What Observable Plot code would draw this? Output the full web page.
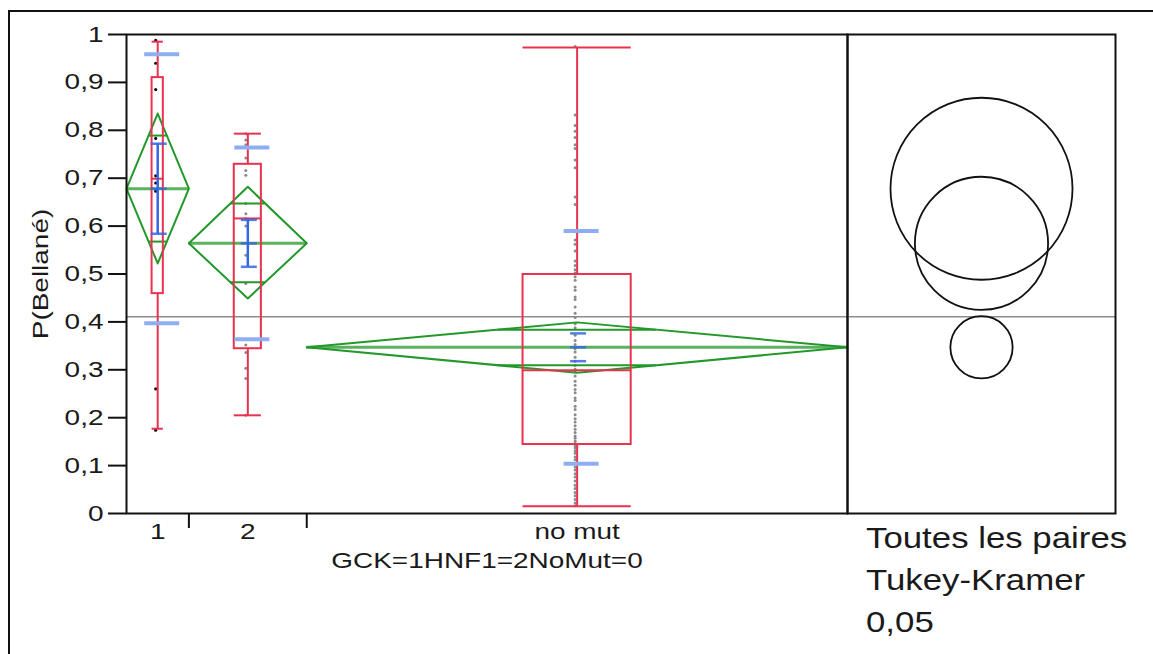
<!DOCTYPE html>
<html>
<head>
<meta charset="utf-8">
<script src="https://cdn.jsdelivr.net/npm/d3@7"></script>
<script src="https://cdn.jsdelivr.net/npm/@observablehq/plot@0.6"></script>
<style>
  html, body { margin: 0; padding: 0; background: #fff; }
  #wrap { position: relative; width: 1153px; height: 654px; overflow: hidden; font-family: "Liberation Sans", Arial, sans-serif; }
  #outer { position: absolute; left: 8px; top: 10px; width: 1300px; height: 800px; border-top: 2px solid #111; border-left: 2px solid #111; }
  .layer { position: absolute; left: 0; top: 0; }
  .note { position: absolute; left: 866px; font-size: 30px; line-height: 30px; color: #1a1a1a; white-space: nowrap; transform: scaleX(1.16); transform-origin: 0 0; }
</style>
</head>
<body>
<div id="wrap"><div id="outer"></div></div>
<script>
// ---------------- data ----------------
const groups = ["1", "2", "no mut"];
const counts = [9, 17, 78];
const pts1 = [0.988, 0.940, 0.885, 0.783, 0.705, 0.690, 0.673, 0.260, 0.174];
const pts2 = [0.793, 0.780, 0.770, 0.742, 0.716, 0.706, 0.647, 0.626, 0.616, 0.600, 0.539, 0.480, 0.352, 0.336, 0.303, 0.282, 0.205];
const pts3 = [0.975, 0.832, 0.810, 0.798, 0.785, 0.770, 0.762, 0.738, 0.722, 0.661, 0.645, 0.588, 0.571, 0.562, 0.548, 0.527, 0.518, 0.509, 0.502,
              0.494, 0.487, 0.473, 0.466, 0.452, 0.447, 0.431, 0.418, 0.409, 0.396, 0.388, 0.372, 0.361, 0.353, 0.344, 0.337, 0.326, 0.318, 0.309, 0.301,
              0.296, 0.287, 0.276, 0.268, 0.259, 0.252, 0.241, 0.236, 0.224, 0.217, 0.206, 0.198, 0.191, 0.183, 0.176, 0.169, 0.162, 0.157, 0.151, 0.146,
              0.141, 0.137, 0.131, 0.126, 0.118, 0.112, 0.104, 0.097, 0.091, 0.083, 0.076, 0.068, 0.059, 0.052, 0.044, 0.037, 0.029, 0.022, 0.016];
const means = [0.678, 0.564, 0.347];
const ciLow = [0.522, 0.449, 0.294];
const ciHigh = [0.835, 0.682, 0.399];
const sds = [0.281, 0.200, 0.243];
const ses = [0.094, 0.049, 0.029];
const q1s = [0.459, 0.344, 0.144];
const medians = [0.699, 0.616, 0.299];
const q3s = [0.910, 0.729, 0.499];
const whiskerLow = [0.177, 0.205, 0.015];
const whiskerHigh = [0.985, 0.793, 0.973];
const circleRadius = [0.190, 0.139, 0.065];
const grandMean = 0.411;
const yTicks = [0, 0.1, 0.2, 0.3, 0.4, 0.5, 0.6, 0.7, 0.8, 0.9, 1];
const yTitle = "P(Bellané)";
const xTitle = "GCK=1HNF1=2NoMut=0";
const noteLines = ["Toutes les paires", "Tukey-Kramer", "0,05"];

// ---------------- layout & style ----------------
const W = 1153, H = 654;
const mT = 34, mB = 141, mL = 126, mR = 306;   // main panel
const pL = 847, pR = 38;                         // comparison-circle panel
const boxFrac = [0.18, 0.23, 0.2];
const seBarVisible = [true, true, false];
const RED = "#e8324f", GREEN = "#23982b", BLUE = "#3467e0", LBLUE = "#8eaef2", GREY = "#8c8c8c";
const stretch = 1.27;
const font = "'Liberation Sans', Arial, sans-serif";

// ---------------- derived tables ----------------
let cum = 0;
const rows = groups.map((g, i) => {
  const start = cum; cum += counts[i];
  const centre = (start + cum) / 2, bw = boxFrac[i] * counts[i];
  return {group: g, n: counts[i], start, end: cum, centre, bx1: centre - bw / 2, bx2: centre + bw / 2,
          mean: means[i], ciLow: ciLow[i], ciHigh: ciHigh[i], sdHi: means[i] + sds[i], sdLo: means[i] - sds[i],
          seHi: means[i] + ses[i], seLo: means[i] - ses[i], q1: q1s[i], median: medians[i], q3: q3s[i],
          lo: whiskerLow[i], hi: whiskerHigh[i], radius: circleRadius[i], seBar: seBarVisible[i]};
});
const N = cum;
const boundaries = rows.slice(0, -1).map(r => r.end);
const centreLabel = new Map(rows.map(r => [r.centre, r.group]));
const pointRows = [pts1, pts2, pts3].map((arr, i) => arr.map(v => ({x: rows[i].centre, y: v})));
const diamond = rows.flatMap(r => [[r.start, r.mean], [r.centre, r.ciHigh], [r.end, r.mean], [r.centre, r.ciLow], [r.start, r.mean]]
  .map(([x, y]) => ({group: r.group, x, y})));
const overlap = rows.flatMap(r => {
  const k = 1 / Math.SQRT2, hw = (1 - k) * r.n / 2;
  return [r.mean + (r.ciHigh - r.mean) * k, r.mean - (r.mean - r.ciLow) * k].map(y => ({y, x1: r.centre - hw, x2: r.centre + hw}));
});
const sdMarks = rows.flatMap(r => [{x: r.centre, y: r.sdHi}, {x: r.centre, y: r.sdLo}]);
const seMarks = rows.flatMap(r => [{x: r.centre, y: r.seHi}, {x: r.centre, y: r.seLo}, {x: r.centre, y: r.mean}]);
const hdash = {draw(ctx, size) { const r = Math.sqrt(size / Math.PI); ctx.moveTo(-r, 0); ctx.lineTo(r, 0); }};
const fmt = d => (d === 0 || d === 1) ? String(d) : d.toFixed(1).replace(".", ",");

// ---------------- main panel ----------------
const main = Plot.plot({
  width: W, height: H, marginTop: mT, marginBottom: mB, marginLeft: mL, marginRight: mR,
  style: {fontFamily: font, fontSize: "22px", color: "#1a1a1a", background: "transparent", overflow: "visible"},
  x: {domain: [0, N]},
  y: {domain: [0, 1]},
  marks: [
    Plot.ruleY([grandMean], {stroke: GREY, strokeWidth: 1.5}),
    Plot.dot(pointRows[1], {x: "x", y: "y", r: 1.5, fill: "#8a8a8a", dx: -2}),
    Plot.dot(pointRows[2], {x: "x", y: "y", r: 1.5, fill: "#8a8a8a", dx: -2}),
    Plot.dot(pointRows[0], {x: "x", y: "y", r: 1.6, fill: "#111", dx: -2}),
    Plot.line(diamond, {x: "x", y: "y", z: "group", stroke: GREEN, strokeWidth: 2}),
    Plot.ruleY(overlap, {y: "y", x1: "x1", x2: "x2", stroke: GREEN, strokeWidth: 2}),
    Plot.ruleY(rows, {y: "mean", x1: "start", x2: "end", stroke: GREEN, strokeWidth: 3, strokeOpacity: 0.75}),
    Plot.rect(rows, {x1: "bx1", x2: "bx2", y1: "q1", y2: "q3", fill: "none", stroke: RED, strokeWidth: 2}),
    Plot.ruleY(rows, {y: "median", x1: "bx1", x2: "bx2", stroke: RED, strokeWidth: 2}),
    Plot.ruleX(rows, {x: "centre", y1: "q3", y2: "hi", stroke: RED, strokeWidth: 2}),
    Plot.ruleX(rows, {x: "centre", y1: "lo", y2: "q1", stroke: RED, strokeWidth: 2}),
    Plot.ruleY(rows, {y: "hi", x1: "bx1", x2: "bx2", stroke: RED, strokeWidth: 2}),
    Plot.ruleY(rows, {y: "lo", x1: "bx1", x2: "bx2", stroke: RED, strokeWidth: 2}),
    Plot.dot(sdMarks, {x: "x", y: "y", symbol: hdash, r: 17.5, dx: 4, fill: "none", stroke: LBLUE, strokeWidth: 4}),
    Plot.ruleX(rows.filter(r => r.seBar), {x: "centre", y1: "seLo", y2: "seHi", stroke: BLUE, strokeWidth: 2.5}),
    Plot.dot(seMarks, {x: "x", y: "y", symbol: hdash, r: 8, dx: 1, fill: "none", stroke: BLUE, strokeWidth: 2.5, strokeOpacity: 0.85}),
    Plot.frame({stroke: "#111", strokeWidth: 2}),
    Plot.axisY({ticks: yTicks, tickFormat: fmt, tickSize: 18, tickPadding: 5, strokeWidth: 2, stroke: "#111", fontSize: 22, label: null}),
    Plot.axisX({ticks: rows.map(r => r.centre), tickFormat: d => centreLabel.get(d), tickSize: 0, tickPadding: 10, fontSize: 22, label: null}),
    Plot.axisX({ticks: boundaries, tickFormat: () => "", tickSize: 15, tickPadding: 0, strokeWidth: 2, stroke: "#111", label: null}),
    Plot.text([yTitle], {frameAnchor: "left", text: d => d, rotate: -90, dx: -86, fontSize: 22, textAnchor: "middle", lineAnchor: "middle", fill: "#1a1a1a"}),
    Plot.text([xTitle], {frameAnchor: "bottom", text: d => d, dy: 39, fontSize: 22, textAnchor: "middle", lineAnchor: "top", fill: "#1a1a1a"})
  ]
});

// ---------------- comparison circles panel ----------------
const pxPerUnit = (H - mT - mB) / 1;
const circles = Plot.plot({
  width: W, height: H, marginTop: mT, marginBottom: mB, marginLeft: pL, marginRight: pR,
  style: {background: "transparent", overflow: "visible"},
  x: {domain: [0, 1], axis: null},
  y: {domain: [0, 1], axis: null},
  marks: [
    Plot.ruleY([grandMean], {stroke: GREY, strokeWidth: 1.5}),
    ...rows.map(r => Plot.dot([r], {x: () => 0.5, y: "mean", r: r.radius * pxPerUnit, fill: "none", stroke: "#111", strokeWidth: 1.8})),
    Plot.frame({stroke: "#111", strokeWidth: 2})
  ]
});

const wrap = document.getElementById("wrap");
[main, circles].forEach(s => { s.classList.add("layer"); s.style.position = "absolute"; s.style.left = "0px"; s.style.top = "0px"; wrap.appendChild(s); });
main.querySelectorAll("text").forEach(t => {
  const L = t.getComputedTextLength();
  if (L > 0) { t.setAttribute("textLength", (L * stretch).toFixed(1)); t.setAttribute("lengthAdjust", "spacingAndGlyphs"); }
});
const tops = [523, 565, 607];
noteLines.forEach((s, i) => {
  const d = document.createElement("div");
  d.className = "note"; d.style.top = tops[i] + "px"; d.textContent = s;
  wrap.appendChild(d);
});
</script>
</body>
</html>
